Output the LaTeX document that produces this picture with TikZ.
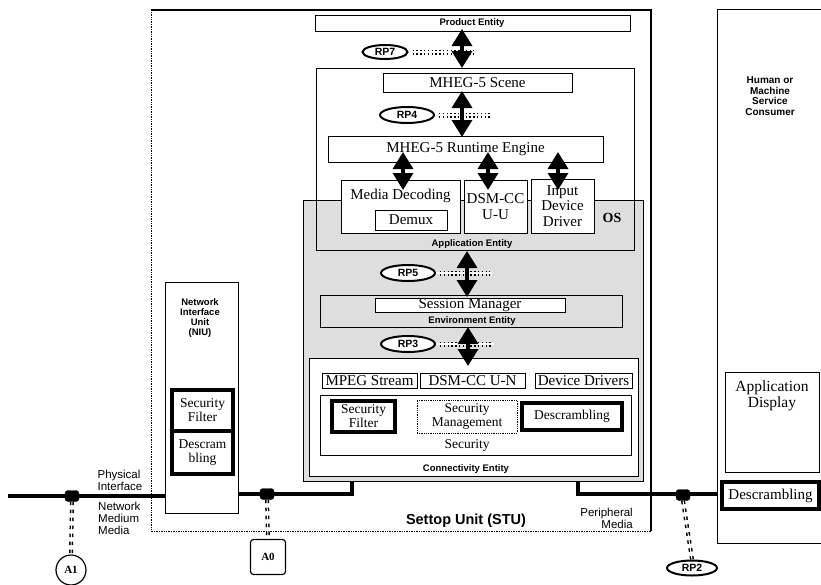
\documentclass[tikz,border=0pt]{standalone}
\usepackage{fontspec}
\setmainfont{Liberation Serif}
\setsansfont{Liberation Sans}
\usetikzlibrary{arrows.meta,shapes.geometric}
\begin{document}
\begin{tikzpicture}[x=1pt,y=-1pt,
  box/.style={draw,line width=1pt,fill=white,inner sep=0pt,align=center,
    font=\fontsize{15}{15.5}\selectfont},
  secbox/.style={box,font=\fontsize{13.5}{14}\selectfont},
  thickbox/.style={secbox,line width=3.5pt},
  frame/.style={draw,line width=1pt,inner sep=0pt},
  lbl/.style={inner sep=0pt,font=\sffamily\bfseries\fontsize{9.5}{10}\selectfont},
  plain/.style={inner sep=0pt,align=left,font=\sffamily\fontsize{11.5}{12}\selectfont},
  rp/.style={ellipse,draw,line width=2pt,fill=white,inner sep=0pt,
    font=\sffamily\bfseries\fontsize{10.5}{10.5}\selectfont},
  link/.style={line width=3.4pt,
    {Triangle[width=20pt,length=17pt]}-{Triangle[width=20pt,length=17pt]}},
  junction/.style={draw,fill=black,rounded corners=3pt,minimum width=14pt,
    minimum height=11pt,inner sep=0pt},
  wire/.style={line width=3.6pt},
  colons/.style={line width=5pt,dash pattern=on 1.4pt off 2.4pt},
  bars/.style={line width=4pt,dash pattern=on 3.5pt off 4.5pt},
]
\useasboundingbox (0,0) rectangle (821,584);

% settop unit frame
\coordinate (stuNW) at (151,10);
\coordinate (stuNE) at (651,10);
\coordinate (stuSE) at (651,531);
\coordinate (stuSW) at (151,531);
\draw[line width=1.2pt] (stuNW) -- (stuNE) -- (stuSE);
\draw[line width=0.7pt,densely dotted] (stuSE) -- (stuSW) -- (stuNW);
\node[font=\sffamily\bfseries\fontsize{14.5}{14.5}\selectfont,inner sep=0pt]
  (stu) at (466,521) {Settop Unit (STU)};

% shaded operating system region
\node[draw,line width=0.8pt,fill=black!13,minimum width=340pt,minimum height=281pt,
  inner sep=0pt] (os) at (473,340.5) {};
\node[font=\bfseries\fontsize{14}{14}\selectfont,inner sep=0pt] (oslbl) at (612,218) {OS};

% product entity
\node[frame,fill=white,minimum width=315pt,minimum height=16pt] (product) at (472.5,23) {};
\node[lbl] (productlbl) at (472,23) {Product Entity};

% application entity
\node[frame,minimum width=318pt,minimum height=182pt] (app) at (475,159) {};
\node[lbl] (applbl) at (472,244) {Application Entity};
\node[box,minimum width=189pt,minimum height=19pt] (scene) at (477.5,82.5) {MHEG-5 Scene};
\node[box,minimum width=275pt,minimum height=26pt] (rte) at (465.5,149) {MHEG-5 Runtime Engine};
\node[box,minimum width=119pt,minimum height=53pt] (media) at (400.5,206.5) {};
\node[inner sep=0pt,font=\fontsize{15}{15}\selectfont] (medialbl) at (400.5,196) {Media Decoding};
\node[box,minimum width=72pt,minimum height=20pt] (demux) at (411,220) {Demux};
\node[box,minimum width=63pt,minimum height=53pt] (dsmuu) at (495.5,206.5) {DSM-CC\\U-U};
\node[box,minimum width=63pt,minimum height=54pt] (input) at (562.5,206) {Input\\Device\\Driver};

% environment entity
\node[frame,minimum width=302pt,minimum height=32pt] (env) at (471,311) {};
\node[box,minimum width=190pt,minimum height=14pt] (session) at (470,305) {Session Manager};
\node[lbl] (envlbl) at (472,321) {Environment Entity};

% connectivity entity
\node[frame,fill=white,minimum width=329pt,minimum height=118pt] (conn) at (473.5,417) {};
\node[lbl] (connlbl) at (466,469) {Connectivity Entity};
\node[box,minimum width=95pt,minimum height=15pt] (mpeg) at (369.5,380.5) {MPEG Stream};
\node[box,minimum width=105pt,minimum height=15pt] (dsmun) at (472.5,380.5) {DSM-CC U-N};
\node[box,minimum width=97pt,minimum height=15pt] (devdrv) at (583.5,380.5) {Device Drivers};
\node[frame,minimum width=311pt,minimum height=60pt] (security) at (475.5,425) {};
\node[inner sep=0pt,font=\fontsize{13.5}{13.5}\selectfont] (seclbl) at (467,445) {Security};
\node[thickbox,minimum width=63pt,minimum height=31pt] (secfilt) at (363.5,416.5) {Security\\Filter};
\node[secbox,line width=0.8pt,densely dotted,minimum width=100pt,minimum height=33pt] (secmgmt) at (467,416.5) {};
\node[inner sep=0pt,align=center,font=\fontsize{13.5}{14}\selectfont] (secmgmtlbl) at (467,416.5) {Security\\Management};
\node[thickbox,minimum width=100pt,minimum height=27pt] (descr) at (572,416.5) {Descrambling};

% network interface unit
\node[frame,fill=white,minimum width=73pt,minimum height=231pt] (niu) at (201.5,397.5) {};
\node[lbl,align=center,font=\sffamily\bfseries\fontsize{9.5}{10}\selectfont] (niulbl) at (200,318) {Network\\Interface\\Unit\\(NIU)};
\node[thickbox,minimum width=61pt,minimum height=41pt] (niusf) at (202.5,410.5) {Security\\Filter};
\node[thickbox,minimum width=61pt,minimum height=43pt] (niuds) at (202.5,452.5) {Descram\\bling};

% service consumer
\node[frame,minimum width=113pt,minimum height=534pt] (consumer) at (773.5,276) {};
\node[lbl,align=center,font=\sffamily\bfseries\fontsize{10}{10.5}\selectfont] (consumerlbl) at (770,96) {Human or\\Machine\\Service\\Consumer};
\node[box,minimum width=94pt,minimum height=100pt] (appdisp) at (772,422) {};
\node[inner sep=0pt,align=center,font=\fontsize{15.5}{16.5}\selectfont] (appdisplbl) at (772,396) {Application\\Display};
\node[thickbox,font=\fontsize{15}{15}\selectfont,minimum width=97pt,minimum height=27pt] (descr2) at (770.5,495.5) {Descrambling};

% physical network and peripheral wiring
\coordinate (netstart) at (8,496);
\coordinate (niuout) at (238,494);
\coordinate (bend0) at (352,494);
\coordinate (stuin) at (352,481);
\coordinate (stuout) at (578,481);
\coordinate (bend2) at (578,494);
\coordinate (consin) at (717,494);
\draw[wire] (netstart) -- (niu.west |- netstart);
\draw[wire] (niuout) -- (bend0) -- (stuin);
\draw[wire] (stuout) -- (bend2) -- (consin);
\node[junction] (j1) at (72,496) {};
\node[junction] (j0) at (267,494) {};
\node[junction] (j2) at (683,495) {};

\node[plain] (phys) at (120,480) {Physical\\Interface};
\node[plain,anchor=north west] (medium) at (98,502) {Network\\Medium\\Media};
\node[plain,align=right,anchor=east] (periph) at (633,518) {Peripheral\\Media};

% reference points
\node[circle,draw,line width=1.2pt,minimum size=30pt,inner sep=0pt,
  font=\bfseries\fontsize{11}{11}\selectfont] (a1) at (71,570) {A1};
\node[draw,line width=1.2pt,rounded corners=3pt,minimum size=35pt,inner sep=0pt,
  font=\bfseries\fontsize{11}{11}\selectfont] (a0) at (268,557) {A0};
\node[rp,minimum width=50pt,minimum height=15pt] (rp2) at (692,568) {RP2};
\node[rp,minimum width=45pt,minimum height=14pt] (rp7) at (385,52) {RP7};
\node[rp,minimum width=54pt,minimum height=16pt] (rp4) at (407,115) {RP4};
\node[rp,minimum width=54pt,minimum height=16pt] (rp5) at (408,273) {RP5};
\node[rp,minimum width=54pt,minimum height=16pt] (rp3) at (408,344) {RP3};

\draw[bars] (j1.south) -- (a1.north);
\draw[white,line width=1pt] (j1.south) -- (a1.north);
\draw[bars] (j0.south) -- (a0.north);
\draw[white,line width=1pt] (j0.south) -- (a0.north);
\draw[bars] (j2.south) -- (rp2.north);
\draw[white,line width=1pt] (j2.south) -- (rp2.north);

\coordinate (e7) at (474,52);
\coordinate (e4) at (490,115);
\coordinate (e5) at (490,273);
\coordinate (e3) at (492,344);
\foreach \r/\e in {rp7/e7,rp4/e4,rp5/e5,rp3/e3}{
  \draw[colons] ([xshift=4pt]\r.east) -- (\e);
  \draw[white,line width=1.6pt] (\r.east) -- ([xshift=2pt]\e);
}

% interface links
\draw[link] (462,29) -- (462,68);
\draw[link] (462,91) -- (462,137);
\draw[link] (467,251) -- (467,297);
\draw[link] (468,327) -- (468,366);
\draw[link] (403,152) -- (403,190);
\draw[link] (488,152) -- (488,190);
\draw[link] (558,152) -- (558,190);
\end{tikzpicture}
\end{document}
